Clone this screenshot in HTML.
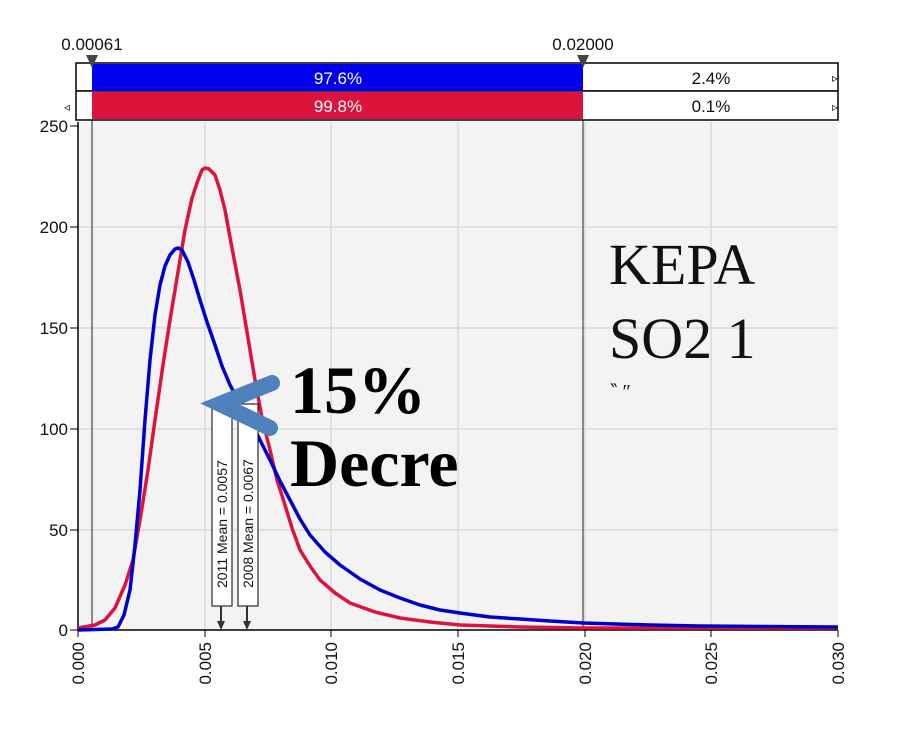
<!DOCTYPE html>
<html><head><style>body{margin:0;background:#fff}svg{display:block}</style></head><body>
<svg width="906" height="747" xmlns="http://www.w3.org/2000/svg" font-family="Liberation Sans, sans-serif">
<rect x="78" y="122" width="760" height="508" fill="#f3f3f3"/>
<g stroke="#d9d9d9" stroke-width="1.5">
<line x1="205" y1="122" x2="205" y2="630"/><line x1="331" y1="122" x2="331" y2="630"/><line x1="458" y1="122" x2="458" y2="630"/><line x1="585" y1="122" x2="585" y2="630"/><line x1="711" y1="122" x2="711" y2="630"/>
<line x1="78" y1="227" x2="838" y2="227"/><line x1="78" y1="328" x2="838" y2="328"/><line x1="78" y1="429" x2="838" y2="429"/><line x1="78" y1="530" x2="838" y2="530"/>
</g>
<line x1="92" y1="63" x2="92" y2="630" stroke="#222" stroke-width="1"/>
<line x1="583" y1="63" x2="583" y2="630" stroke="#222" stroke-width="1"/>
<rect x="76" y="63" width="762" height="28" fill="#fff" stroke="#000" stroke-width="1.5"/>
<rect x="76" y="91" width="762" height="29" fill="#fff" stroke="#000" stroke-width="1.5"/>
<rect x="92" y="64" width="491" height="27" fill="#0000ee"/>
<rect x="92" y="92" width="491" height="27" fill="#dc143c"/>
<g font-size="17" text-anchor="middle">
<text x="338" y="84" fill="#fff">97.6%</text><text x="338" y="112" fill="#fff">99.8%</text>
<text x="711" y="84" fill="#111">2.4%</text><text x="711" y="112" fill="#111">0.1%</text>
<text x="92" y="50" fill="#111">0.00061</text><text x="583" y="50" fill="#111">0.02000</text>
</g>
<path d="M86 55 L98 55 L92 68Z M577 55 L589 55 L583 68Z" fill="#444"/>
<text x="838" y="82" font-size="12" text-anchor="end">▹</text>
<text x="838" y="111" font-size="12" text-anchor="end">▹</text>
<text x="64" y="111" font-size="12">◃</text>
<line x1="78" y1="122" x2="78" y2="630" stroke="#000" stroke-width="1.5"/>
<line x1="78" y1="630" x2="838" y2="630" stroke="#000" stroke-width="1.5"/>
<g font-size="17" text-anchor="end" fill="#111">
<text x="68" y="132">250</text><text x="68" y="233">200</text><text x="68" y="334">150</text><text x="68" y="435">100</text><text x="68" y="536">50</text><text x="68" y="636">0</text>
</g>
<g stroke="#000"><line x1="70" y1="126" x2="78" y2="126"/><line x1="70" y1="227" x2="78" y2="227"/><line x1="70" y1="328" x2="78" y2="328"/><line x1="70" y1="429" x2="78" y2="429"/><line x1="70" y1="530" x2="78" y2="530"/><line x1="70" y1="630" x2="78" y2="630"/>
<line x1="78" y1="630" x2="78" y2="637"/><line x1="205" y1="630" x2="205" y2="637"/><line x1="331" y1="630" x2="331" y2="637"/><line x1="458" y1="630" x2="458" y2="637"/><line x1="585" y1="630" x2="585" y2="637"/><line x1="711" y1="630" x2="711" y2="637"/><line x1="838" y1="630" x2="838" y2="637"/></g>
<g font-size="17" text-anchor="end" fill="#111">
<text transform="translate(84,642) rotate(-90)">0.000</text><text transform="translate(211,642) rotate(-90)">0.005</text><text transform="translate(337,642) rotate(-90)">0.010</text><text transform="translate(464,642) rotate(-90)">0.015</text><text transform="translate(591,642) rotate(-90)">0.020</text><text transform="translate(717,642) rotate(-90)">0.025</text><text transform="translate(844,642) rotate(-90)">0.030</text>
</g>
<polyline fill="none" stroke="#dc143c" stroke-width="3.5" stroke-linejoin="round" points="78,628 95,625 105,620 115,608 125,585 133,560 140,520 148,470 155,420 163,365 170,320 178,272 185,230 192,198 198,180 202,170 205,168 209,169 215,175 220,190 225,210 232,248 240,290 248,338 255,380 262,418 270,450 277,480 285,505 292,528 300,550 310,566 320,580 335,593 350,603 375,612 400,618 430,622 460,625 520,627 583,628 838,628"/>
<polyline fill="none" stroke="#0000cc" stroke-width="3.5" stroke-linejoin="round" points="78,630 112,629 118,627 124,615 130,590 135,545 140,490 145,420 150,360 155,315 160,285 165,266 170,255 175,249 178,248 182,250 188,262 194,280 200,300 207,322 215,345 222,366 230,385 240,403 250,420 260,440 270,460 280,481 290,500 300,519 310,535 325,552 340,565 360,579 380,590 400,598 420,605 440,610 460,613 490,617 520,619 550,621 583,623 650,625 700,626 838,627"/>
<rect x="212" y="404" width="20" height="202" fill="#fff" stroke="#000"/>
<rect x="238" y="404" width="20" height="202" fill="#fff" stroke="#000"/>
<g font-size="14" fill="#111"><text transform="translate(227,588) rotate(-90)">2011 Mean = 0.0057</text><text transform="translate(253,588) rotate(-90)">2008 Mean = 0.0067</text></g>
<g stroke="#333" stroke-width="2"><line x1="221" y1="606" x2="221" y2="628"/><line x1="247" y1="606" x2="247" y2="628"/></g>
<path d="M217 621 L225 621 L221 630Z M243 621 L251 621 L247 630Z" fill="#333"/>
<polyline points="272,383 220,404 270,428" fill="none" stroke="#4f81bd" stroke-width="16" stroke-linecap="round" stroke-linejoin="miter"/>
<g font-family="Liberation Serif, serif" font-weight="bold" font-size="68" fill="#000">
<text x="290" y="413">15%</text><text x="290" y="486">Decre</text></g>
<g font-family="Liberation Serif, serif" font-size="58" fill="#111">
<text x="609" y="284">KEPA</text><text x="609" y="358">SO2 1</text></g>
<text x="610" y="398" font-family="Liberation Serif, serif" font-size="20" fill="#111">‶ ″</text>
</svg>
</body></html>
